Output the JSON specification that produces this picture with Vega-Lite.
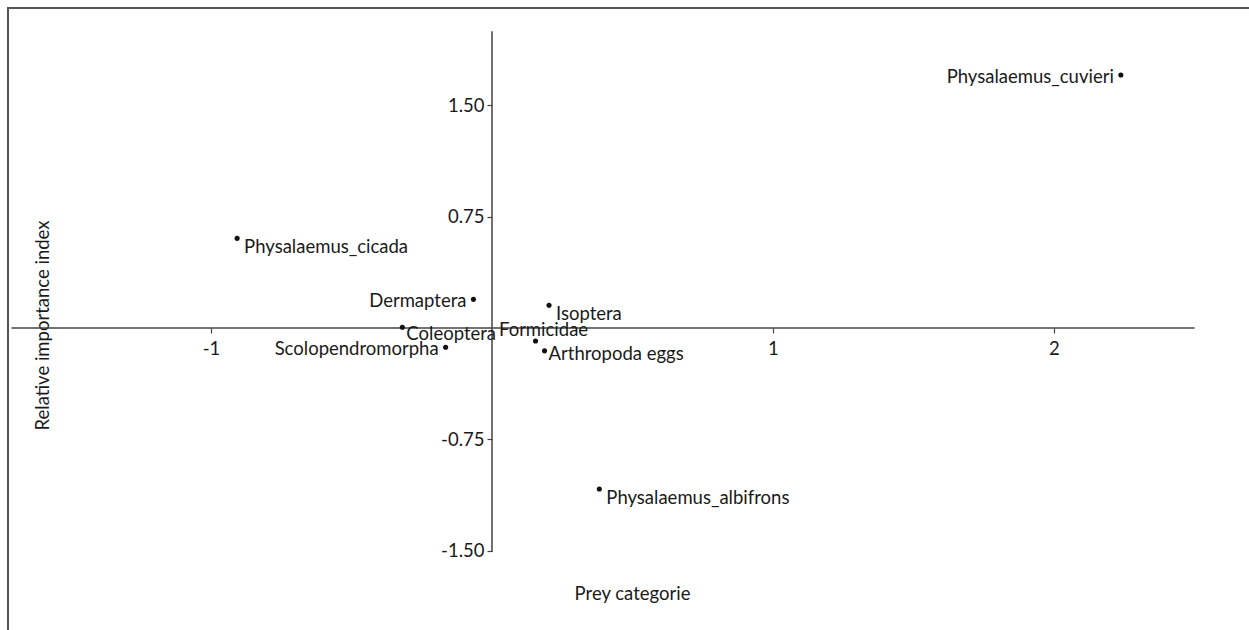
{
  "$schema": "https://vega.github.io/schema/vega-lite/v6.json",
  "width": 1300,
  "height": 680,
  "autosize": {"type": "none"},
  "padding": {"left": 8, "top": 8, "right": 0, "bottom": 0},
  "background": "white",
  "config": {
    "view": {"stroke": "#555555", "strokeWidth": 2},
    "font": "Lato",
    "text": {"font": "Lato", "fontSize": 18.5, "color": "#1a1a1a", "baseline": "middle"}
  },
  "datasets": {
    "pts": [
      {"name": "Physalaemus_cuvieri", "x": 2.238, "y": 1.705},
      {"name": "Physalaemus_cicada", "x": -0.907, "y": 0.604},
      {"name": "Dermaptera", "x": -0.066, "y": 0.193},
      {"name": "Isoptera", "x": 0.203, "y": 0.153},
      {"name": "Coleoptera", "x": -0.319, "y": 0.005},
      {"name": "Scolopendromorpha", "x": -0.165, "y": -0.13},
      {"name": "Formicidae", "x": 0.155, "y": -0.088},
      {"name": "Arthropoda eggs", "x": 0.187, "y": -0.154},
      {"name": "Physalaemus_albifrons", "x": 0.382, "y": -1.085}
    ],
    "axislines": [
      {"x1": -1.71, "x2": 2.5, "y1": 0, "y2": 0},
      {"x1": 0, "x2": 0, "y1": -1.51, "y2": 2.0}
    ]
  },
  "layer": [
    {
      "data": {"name": "axislines"},
      "mark": {"type": "rule", "color": "#444444", "strokeWidth": 1.5},
      "encoding": {
        "x": {
          "field": "x1", "type": "quantitative",
          "scale": {"domain": [-1.7224, 2.904], "nice": false, "zero": false},
          "axis": {
            "values": [-1, 1, 2], "domain": false, "grid": false,
            "labelExpr": "replace(format(datum.value, '.0f'), '\u2212', '-')",
            "tickSize": 5, "tickColor": "#444444", "tickWidth": 1.2,
            "labelFont": "Lato", "labelFontSize": 18.5, "labelColor": "#1a1a1a", "labelPadding": 6,
            "offset": -360,
            "title": "Prey categorie", "titleFont": "Lato", "titleFontSize": 18.5, "titleFontWeight": "normal", "titleColor": "#1a1a1a",
            "titleX": 624, "titleY": 265, "titleBaseline": "middle", "titleAlign": "center"
          }
        },
        "x2": {"field": "x2"},
        "y": {
          "field": "y1", "type": "quantitative",
          "scale": {"domain": [-2.4259, 2.1563], "nice": false, "zero": false},
          "axis": {
            "values": [-1.5, -0.75, 0.75, 1.5], "domain": false, "grid": false,
            "labelExpr": "replace(format(datum.value, '.2f'), '\u2212', '-')",
            "tickSize": 5, "tickColor": "#444444", "tickWidth": 1.2,
            "labelFont": "Lato", "labelFontSize": 18.5, "labelColor": "#1a1a1a", "labelPadding": 3,
            "offset": -484,
            "title": "Relative importance index", "titleFont": "Lato", "titleFontSize": 18.5, "titleFontWeight": "normal", "titleColor": "#1a1a1a",
            "titleX": -450, "titleY": 317, "titleAngle": 270, "titleBaseline": "middle", "titleAlign": "center"
          }
        },
        "y2": {"field": "y2"}
      }
    },
    {
      "data": {"name": "pts"},
      "mark": {"type": "point", "filled": true, "color": "#111111", "size": 26, "opacity": 1},
      "encoding": {
        "x": {"field": "x", "type": "quantitative"},
        "y": {"field": "y", "type": "quantitative"}
      }
    },
    {
      "data": {"name": "pts"},
      "transform": [{"filter": {"field": "name", "oneOf": ["Physalaemus_cicada", "Isoptera", "Physalaemus_albifrons"]}}],
      "mark": {"type": "text", "align": "left", "dx": 7, "dy": 9},
      "encoding": {
        "x": {"field": "x", "type": "quantitative"},
        "y": {"field": "y", "type": "quantitative"},
        "text": {"field": "name"}
      }
    },
    {
      "data": {"name": "pts"},
      "transform": [{"filter": {"field": "name", "oneOf": ["Coleoptera"]}}],
      "mark": {"type": "text", "align": "left", "dx": 4, "dy": 7},
      "encoding": {
        "x": {"field": "x", "type": "quantitative"},
        "y": {"field": "y", "type": "quantitative"},
        "text": {"field": "name"}
      }
    },
    {
      "data": {"name": "pts"},
      "transform": [{"filter": {"field": "name", "oneOf": ["Arthropoda eggs"]}}],
      "mark": {"type": "text", "align": "left", "dx": 4, "dy": 3},
      "encoding": {
        "x": {"field": "x", "type": "quantitative"},
        "y": {"field": "y", "type": "quantitative"},
        "text": {"field": "name"}
      }
    },
    {
      "data": {"name": "pts"},
      "transform": [{"filter": {"field": "name", "oneOf": ["Formicidae"]}}],
      "mark": {"type": "text", "align": "center", "dx": 8, "dy": -11},
      "encoding": {
        "x": {"field": "x", "type": "quantitative"},
        "y": {"field": "y", "type": "quantitative"},
        "text": {"field": "name"}
      }
    },
    {
      "data": {"name": "pts"},
      "transform": [{"filter": {"field": "name", "oneOf": ["Physalaemus_cuvieri", "Dermaptera", "Scolopendromorpha"]}}],
      "mark": {"type": "text", "align": "right", "dx": -7, "dy": 2},
      "encoding": {
        "x": {"field": "x", "type": "quantitative"},
        "y": {"field": "y", "type": "quantitative"},
        "text": {"field": "name"}
      }
    }
  ]
}
